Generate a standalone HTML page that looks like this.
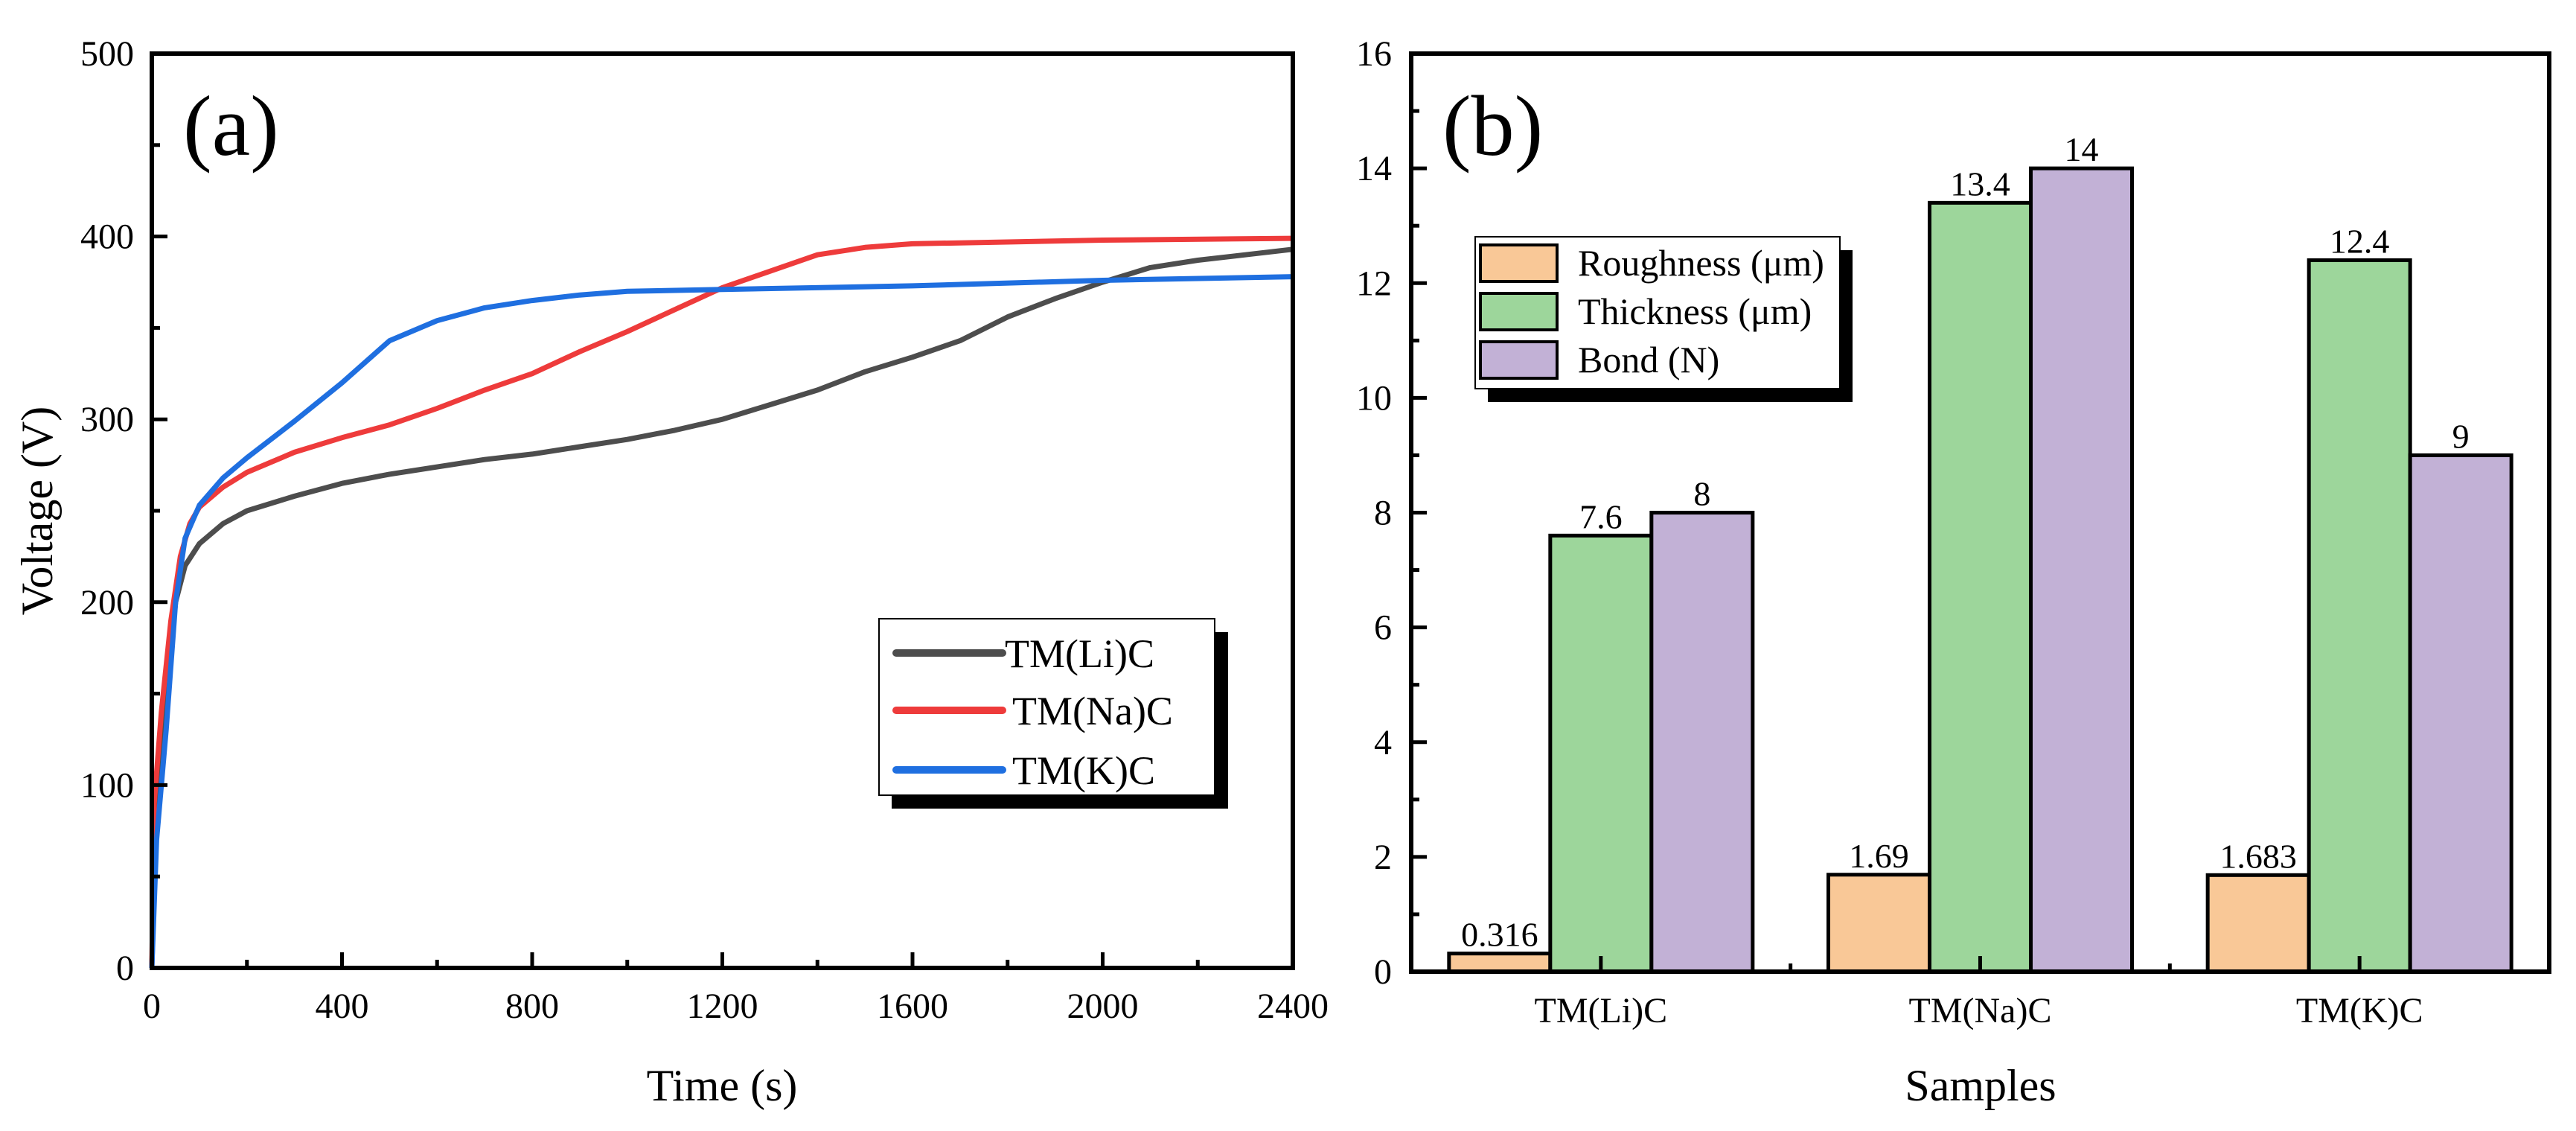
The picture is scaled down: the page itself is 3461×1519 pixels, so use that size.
<!DOCTYPE html>
<html><head><meta charset="utf-8"><style>
html,body{margin:0;padding:0;background:#fff}
svg{display:block;font-family:"Liberation Serif","Times New Roman",serif}
</style></head><body>
<svg id="fig" width="3461" height="1519" viewBox="0 0 3461 1519" xmlns="http://www.w3.org/2000/svg">
<g id="pa"></g>
<g id="pb"></g>
</svg>
<script>
// ---- Panel (a) data ----
const liTime = [0,10,30,50,70,100,150,200,300,400,500,600,700,800,900,1000,1100,1200,1300,1400,1500,1600,1700,1800,1900,2000,2100,2200,2300,2400];
const liVolt = [0,90,150,200,220,232,243,250,258,265,270,274,278,281,285,289,294,300,308,316,326,334,343,356,366,375,383,387,390,393];
const naTime = [0,5,20,40,60,80,100,150,200,300,400,500,600,700,800,900,1000,1100,1200,1300,1400,1500,1600,1800,2000,2400];
const naVolt = [0,90,140,190,225,243,252,263,271,282,290,297,306,316,325,337,348,360,372,381,390,394,396,397,398,399];
const kTime = [0,10,30,50,70,100,150,200,300,400,500,600,700,800,900,1000,1200,1600,2000,2400];
const kVolt = [0,70,130,200,235,253,268,279,299,320,343,354,361,365,368,370,371,373,376,378];
const aXTicks = [0,400,800,1200,1600,2000,2400];
const aYTicks = [0,100,200,300,400,500];
const seriesNames = ["TM(Li)C","TM(Na)C","TM(K)C"];
// ---- Panel (b) data ----
const samples = ["TM(Li)C","TM(Na)C","TM(K)C"];
const roughness = [0.316,1.69,1.683];
const thickness = [7.6,13.4,12.4];
const bond = [8,14,9];
const roughLabels = ["0.316","1.69","1.683"];
const thickLabels = ["7.6","13.4","12.4"];
const bondLabels = ["8","14","9"];
const bYTicks = [0,2,4,6,8,10,12,14,16];
const barNames = ["Roughness (μm)","Thickness (μm)","Bond (N)"];

const NS="http://www.w3.org/2000/svg";
function mk(parent,tag,attrs,text){const e=document.createElementNS(NS,tag);for(const k in attrs)e.setAttribute(k,attrs[k]);if(text!==undefined)e.textContent=text;parent.appendChild(e);return e;}

// ===== Panel A =====
const pa=document.getElementById('pa');
const AL=204,AR=1737,AT=72,AB=1300;
const ax=t=>AL+(t/2400)*(AR-AL);
const ay=v=>AB-(v/500)*(AB-AT);
function line(g,ts,vs,color,name){
  let d=ts.map((t,i)=>(i?'L':'M')+ax(t).toFixed(1)+','+ay(vs[i]).toFixed(1)).join(' ');
  const p=mk(g,'path',{d:d,fill:'none',stroke:color,'stroke-width':7,'stroke-linejoin':'round'});
  
  
}
line(pa,liTime,liVolt,'#4d4d4d','line-tm-li-c');
line(pa,naTime,naVolt,'#ee3b3b','line-tm-na-c');
line(pa,kTime,kVolt,'#1f6fe0','line-tm-k-c');
const fa=mk(pa,'rect',{x:AL,y:AT,width:AR-AL,height:AB-AT,fill:'none',stroke:'#000','stroke-width':6});


for(let t=0;t<=2400;t+=200){const maj=t%400===0;mk(pa,'line',{x1:ax(t),x2:ax(t),y1:AB,y2:AB-(maj?21:11),stroke:'#000','stroke-width':5});}
for(let v=0;v<=500;v+=50){const maj=v%100===0;mk(pa,'line',{x1:AL,x2:AL+(maj?21:11),y1:ay(v),y2:ay(v),stroke:'#000','stroke-width':5});}
aXTicks.forEach(t=>{const e=mk(pa,'text',{x:ax(t),y:1367,'font-size':48,'text-anchor':'middle'},String(t));
 
 });
aYTicks.forEach(v=>{const e=mk(pa,'text',{x:180,y:ay(v)+16,'font-size':48,'text-anchor':'end'},String(v));
 
 });
let t1=mk(pa,'text',{x:970,y:1478,'font-size':60,'text-anchor':'middle'},'Time (s)');


let t2=mk(pa,'text',{x:0,y:0,'font-size':60,'text-anchor':'middle',transform:'translate(70,686) rotate(-90)'},'Voltage (V)');


let t3=mk(pa,'text',{x:246,y:208,'font-size':116},'(a)');


const lga=mk(pa,'g',{});


mk(lga,'rect',{x:1198,y:849,width:452,height:237,fill:'#000'});
mk(lga,'rect',{x:1181,y:831,width:451,height:237,fill:'#fff',stroke:'#000','stroke-width':2});
const lcols=['#4d4d4d','#ee3b3b','#1f6fe0'];
const lrows=[877,954,1034];
seriesNames.forEach((n,i)=>{
  const l=mk(lga,'line',{x1:1204,x2:1347,y1:lrows[i],y2:lrows[i],stroke:lcols[i],'stroke-width':10,'stroke-linecap':'round'});
  
  
  const tx=mk(lga,'text',{x:i==0?1350:1360,y:lrows[i]+19,'font-size':54},n);
  
  
});

// ===== Panel B =====
const pb=document.getElementById('pb');
const BL=1896,BR=3425,BT=72,BB=1305;
const cw=(BR-BL)/3;
const bx=c=>BL+(c+0.5)*cw;
const by=v=>BB-(v/16)*(BB-BT);
const bw=136;
const sets=[[roughness,roughLabels,'#f9c897','roughness'],[thickness,thickLabels,'#9dd69b','thickness'],[bond,bondLabels,'#c2b1d6','bond']];
samples.forEach((s,ci)=>{
  sets.forEach((st,si)=>{
    const v=st[0][ci];
    const x0=bx(ci)-1.5*bw+si*bw;
    const r=mk(pb,'rect',{x:x0,y:by(v),width:bw,height:BB-by(v),fill:st[2],stroke:'#000','stroke-width':5});
    
    
    const lb=mk(pb,'text',{x:x0+bw/2,y:by(v)-10,'font-size':46,'text-anchor':'middle'},st[1][ci]);
    
    
  });
});
const fb=mk(pb,'rect',{x:BL,y:BT,width:BR-BL,height:BB-BT,fill:'none',stroke:'#000','stroke-width':6});


for(let v=0;v<=16;v++){const maj=v%2===0;mk(pb,'line',{x1:BL,x2:BL+(maj?21:11),y1:by(v),y2:by(v),stroke:'#000','stroke-width':5});}
for(let c=0;c<3;c++){mk(pb,'line',{x1:bx(c),x2:bx(c),y1:BB,y2:BB-21,stroke:'#000','stroke-width':5});}
for(let c=1;c<3;c++){const xx=BL+c*cw;mk(pb,'line',{x1:xx,x2:xx,y1:BB,y2:BB-11,stroke:'#000','stroke-width':5});}
bYTicks.forEach(v=>{const e=mk(pb,'text',{x:1870,y:by(v)+16,'font-size':48,'text-anchor':'end'},String(v));
 
 });
samples.forEach((s,c)=>{const e=mk(pb,'text',{x:bx(c),y:1373,'font-size':48,'text-anchor':'middle'},s);
 
 });
let t4=mk(pb,'text',{x:2661,y:1478,'font-size':60,'text-anchor':'middle'},'Samples');


let t5=mk(pb,'text',{x:1938,y:208,'font-size':116},'(b)');


const lgb=mk(pb,'g',{});


mk(lgb,'rect',{x:1999,y:336,width:490,height:204,fill:'#000'});
mk(lgb,'rect',{x:1982,y:318,width:490,height:204,fill:'#fff',stroke:'#000','stroke-width':2});
const sy=[329,394,459];
barNames.forEach((n,i)=>{
  const sw=mk(lgb,'rect',{x:1989,y:sy[i],width:103,height:49,fill:sets[i][2],stroke:'#000','stroke-width':4});
  
  
  const tx=mk(lgb,'text',{x:2120,y:sy[i]+41,'font-size':50},n);
  
  
});
</script>
</body></html>
